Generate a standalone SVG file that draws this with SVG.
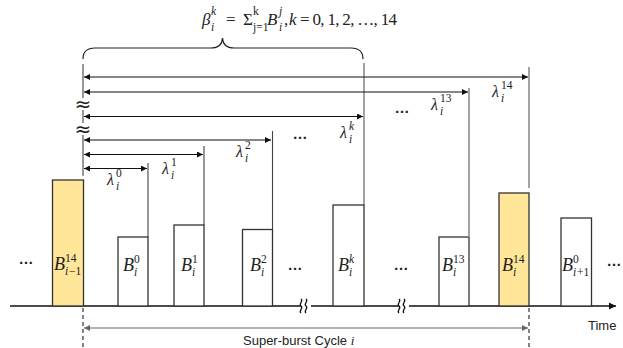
<svg xmlns="http://www.w3.org/2000/svg" width="623" height="348" viewBox="0 0 623 348">
<defs>
<style>
.bar{stroke:#333;stroke-width:1.3;fill:#fff}
.hl{fill:#FFE699}
.m{font-family:"Liberation Serif",serif;font-style:italic;font-size:17px;fill:#222}
.b{font-family:"Liberation Serif",serif;font-style:italic;font-size:18px;fill:#222}
.r{font-family:"Liberation Serif",serif;font-size:17px;fill:#222}
.s{font-family:"Liberation Serif",serif;font-style:italic;font-size:11.5px;fill:#222}
.sr{font-family:"Liberation Serif",serif;font-size:11.5px;fill:#222}
.lam{font-family:"Liberation Serif",serif;font-style:italic;font-size:16px;fill:#222}
.dots{font-family:"Liberation Sans",sans-serif;font-weight:bold;font-size:15px;fill:#222;text-anchor:middle}
.lbl{font-family:"Liberation Sans",sans-serif;font-size:13px;fill:#222}
.apx{font-family:"DejaVu Sans",sans-serif;font-size:20px;fill:#222;text-anchor:middle}
.arr{stroke:#111;stroke-width:1.1;fill:none;marker-start:url(#ah);marker-end:url(#ah)}
.vd{stroke:#444;stroke-width:1.1;fill:none}
.vl{stroke:#999;stroke-width:1.8;fill:none}
.dash{stroke:#333;stroke-width:1.2;stroke-dasharray:4 3;fill:none}
</style>
<marker id="ah" markerUnits="userSpaceOnUse" markerWidth="7" markerHeight="6" refX="6" refY="3" orient="auto-start-reverse"><path d="M0,0 L6,3 L0,6 z" fill="#111"/></marker>
<marker id="ahg" markerUnits="userSpaceOnUse" markerWidth="7" markerHeight="6" refX="6" refY="3" orient="auto-start-reverse"><path d="M0,0 L6,3 L0,6 z" fill="#666"/></marker>
<marker id="axh" markerUnits="userSpaceOnUse" markerWidth="8" markerHeight="8" refX="7" refY="4" orient="auto"><path d="M0,0.5 L7,4 L0,7.5 z" fill="#111"/></marker>
</defs>
<rect width="623" height="348" fill="#fff"/>

<g id="formula">
<text class="m" x="202" y="25">β</text>
<text class="s" x="211" y="15">k</text>
<text class="s" x="211" y="31">i</text>
<text class="r" x="226" y="25">=</text>
<text class="r" x="243" y="25">Σ</text>
<text class="sr" x="253" y="15">k</text>
<text class="sr" x="253" y="31">j=1</text>
<text class="m" x="267" y="25">B</text>
<text class="s" x="279" y="15">j</text>
<text class="s" x="279" y="31">i</text>
<text class="r" x="284" y="25">,</text>
<text class="m" x="289" y="25">k</text>
<text class="r" x="300" y="25" textLength="97" lengthAdjust="spacing">= 0, 1, 2, …, 14</text>
<path d="M83,59 Q83,48 95,48 L211,48 Q222,48 222.5,38 Q223,48 234,48 L351,48 Q363,48 363,59" fill="none" stroke="#222" stroke-width="1.2"/>
</g>

<g id="connectors">
<path class="vd" d="M83,64 V98 M83,110 V123 M83,135 V176"/>
<text class="apx" x="83" y="111">≈</text>
<text class="apx" x="83" y="136">≈</text>
<path class="vd" d="M148,163 V237 M204,146 V225 M272.5,131 V229"/>
<path class="vl" d="M364,63 V205 M469,88 V236 M529,67 V188"/>
<path class="arr" d="M84,77 H528"/>
<path class="arr" d="M84,92 H468"/>
<path class="arr" d="M84,116.5 H363"/>
<path class="arr" d="M84,140 H271"/>
<path class="arr" d="M84,154.5 H203"/>
<path class="arr" d="M84,168.5 H147"/>
<path d="M10,306 H301 M311,306 H399 M409,306 H616" stroke="#111" stroke-width="1.6" fill="none" marker-end="url(#axh)"/>
<path d="M301,299 c3,2 -3,5 0,7 c3,2 -3,5 0,7 M306,299 c3,2 -3,5 0,7 c3,2 -3,5 0,7" stroke="#111" stroke-width="1.3" fill="none"/>
<path d="M399,299 c3,2 -3,5 0,7 c3,2 -3,5 0,7 M404,299 c3,2 -3,5 0,7 c3,2 -3,5 0,7" stroke="#111" stroke-width="1.3" fill="none"/>
<path class="dash" d="M83,308 V348 M529,308 V348"/>
<path d="M84,328 H528" stroke="#666" stroke-width="1.1" fill="none" marker-start="url(#ahg)" marker-end="url(#ahg)"/>
</g>

<g id="lambda-labels">
<text class="lam" x="107" y="185">λ</text><text class="sr" x="116" y="177">0</text><text class="s" x="116" y="190">i</text>
<text class="lam" x="162" y="174">λ</text><text class="sr" x="171" y="166">1</text><text class="s" x="171" y="179">i</text>
<text class="lam" x="236" y="157">λ</text><text class="sr" x="245" y="149">2</text><text class="s" x="245" y="162">i</text>
<text class="lam" x="340" y="138">λ</text><text class="s" x="349" y="130">k</text><text class="s" x="349" y="143">i</text>
<text class="lam" x="431" y="110">λ</text><text class="sr" x="440" y="102">13</text><text class="s" x="440" y="115">i</text>
<text class="lam" x="492" y="97">λ</text><text class="sr" x="501" y="89">14</text><text class="s" x="501" y="102">i</text>
</g>

<g id="ellipses">
<text class="dots" x="300" y="139">…</text>
<text class="dots" x="402" y="113">…</text>
<text class="dots" x="26" y="264">…</text>
<text class="dots" x="295" y="270">…</text>
<text class="dots" x="401" y="270">…</text>
<text class="dots" x="614" y="266">…</text>
</g>

<g id="B_im1_14">
<rect class="bar hl" x="52.5" y="180" width="31" height="126"/>
<text class="b" x="54" y="270">B</text><text class="sr" x="65" y="262">14</text><text class="s" x="65" y="275">i</text><text class="sr" x="69" y="275">−1</text>
</g>
<g id="B_i_0">
<rect class="bar" x="118" y="237" width="30" height="69"/>
<text class="b" x="123" y="271">B</text><text class="sr" x="134" y="263">0</text><text class="s" x="134" y="276">i</text>
</g>
<g id="B_i_1">
<rect class="bar" x="174" y="225" width="30" height="81"/>
<text class="b" x="181" y="271">B</text><text class="sr" x="192" y="263">1</text><text class="s" x="192" y="276">i</text>
</g>
<g id="B_i_2">
<rect class="bar" x="242.5" y="229.5" width="30" height="76.5"/>
<text class="b" x="250" y="271">B</text><text class="sr" x="261" y="263">2</text><text class="s" x="261" y="276">i</text>
</g>
<g id="B_i_k">
<rect class="bar" x="333" y="205" width="31" height="101"/>
<text class="b" x="338" y="271">B</text><text class="s" x="349" y="263">k</text><text class="s" x="349" y="276">i</text>
</g>
<g id="B_i_13">
<rect class="bar" x="439" y="237" width="30" height="69"/>
<text class="b" x="442" y="271">B</text><text class="sr" x="453" y="263">13</text><text class="s" x="453" y="276">i</text>
</g>
<g id="B_i_14">
<rect class="bar hl" x="499" y="193" width="30" height="113"/>
<text class="b" x="502" y="271">B</text><text class="sr" x="513" y="263">14</text><text class="s" x="513" y="276">i</text>
</g>
<g id="B_ip1_0">
<rect class="bar" x="561" y="218" width="30.5" height="88"/>
<text class="b" x="562" y="271">B</text><text class="sr" x="573" y="263">0</text><text class="s" x="573" y="276">i</text><text class="sr" x="577" y="276">+1</text>
</g>

<g id="axis-labels">
<text class="lbl" x="588" y="330">Time</text>
<text class="lbl" x="243" y="345">Super-burst Cycle <tspan font-family="Liberation Serif, serif" font-style="italic">i</tspan></text>
</g>
</svg>
